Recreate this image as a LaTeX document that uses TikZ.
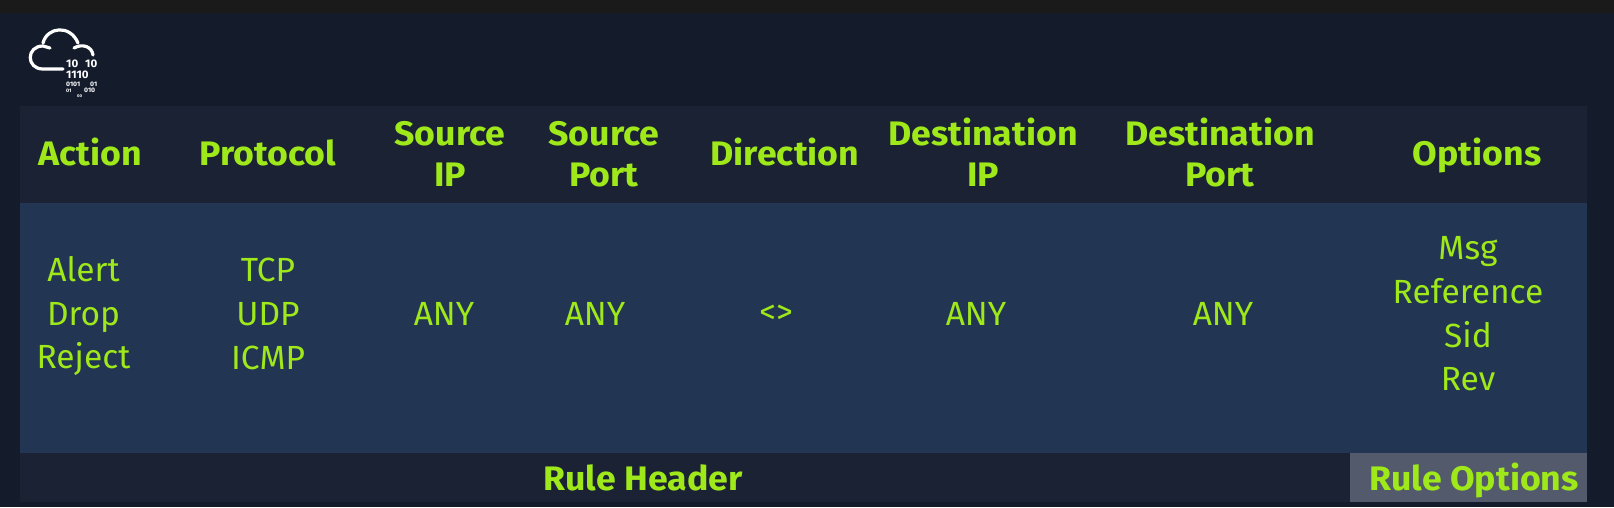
\documentclass[tikz,border=0pt]{standalone}
\usepackage{fontspec}
\setmainfont{Fira Sans}[BoldFeatures={FakeStretch=1.05}]
\definecolor{pagebg}{HTML}{141B2B}
\definecolor{topbar}{HTML}{1A1A1A}
\definecolor{headbg}{HTML}{1A2233}
\definecolor{bodybg}{HTML}{223553}
\definecolor{optbg}{HTML}{535A6B}
\definecolor{lime}{HTML}{9FE81A}
\tikzset{
	headtext/.style={text=lime, align=center, font=\fontsize{34}{41}\selectfont\bfseries, inner sep=0pt},
	celltext/.style={text=lime, align=center, font=\fontsize{33.5}{43.6}\selectfont, inner sep=0pt},
	bintext/.style={text=white, inner sep=0pt, font=\fontsize{#1}{#1}\selectfont\bfseries},
	logoline/.style={draw=white, line width=3.2pt, line cap=round}
}
\begin{document}
\begin{tikzpicture}[x=1pt,y=-1pt]
	\useasboundingbox (0,0) rectangle (1614,507);
	\fill[pagebg] (0,0) rectangle (1614,507);
	\fill[topbar] (0,0) rectangle (1614,13);
	\fill[headbg] (20,106) rectangle (1587,502);
	\fill[bodybg] (20,203) rectangle (1587,453);
	\fill[optbg] (1350,453) rectangle (1587,502);
	% logo
	\draw[logoline] (63,69) -- (43,69) .. controls (26,69) and (26,46) .. (43,46) -- (50,48);
	\draw[logoline] (43,43) .. controls (47,27) and (70,24) .. (78,43);
	\draw[logoline] (74,48) .. controls (83,43) and (92,47) .. (93,55);
	\node[bintext=11, anchor=west] (bina) at (66,63.5) {10};
	\node[bintext=11, anchor=west] (binb) at (85,63.5) {10};
	\node[bintext=11, anchor=west] (binc) at (66,75) {1110};
	\node[bintext=6.5, anchor=west] (bind) at (66,84) {0101};
	\node[bintext=6.5, anchor=west] (bine) at (90,84) {01};
	\node[bintext=5, anchor=west] (binf) at (66,91) {01};
	\node[bintext=6.5, anchor=west] (bing) at (84,90) {010};
	\node[bintext=4, anchor=west] (binh) at (77,96) {00};
	% header row
	\foreach \name/\x/\y/\label in {action/90.5/152/Action, protocol/268/153/Protocol, srcip/450/154/Source\\IP, srcport/604/154/Source\\Port, direction/785/152/Direction, dstip/983/152/Destination\\IP, dstport/1220/152/Destination\\Port, options/1477/155/Options}
		\node[headtext] (\name) at (\x,\y) {\label};
	% value row
	\foreach \name/\x/\y/\label in {verbs/83.5/316/Alert\\Drop\\Reject, protos/268/314/TCP\\UDP\\ICMP, anya/444/314/ANY, anyb/595/314/ANY, dir/776/314/<{}>, anyc/976/314/ANY, anyd/1223/314/ANY}
		\node[celltext] (\name) at (\x,\y) {\label};
	\node[celltext] (opts) at (1468,314) {Msg\\Reference\\Sid\\Rev};
	% footer
	\node[headtext] (rulehead) at (643,478) {Rule Header};
	\node[headtext] (ruleopts) at (1474,480) {Rule Options};
\end{tikzpicture}
\end{document}
